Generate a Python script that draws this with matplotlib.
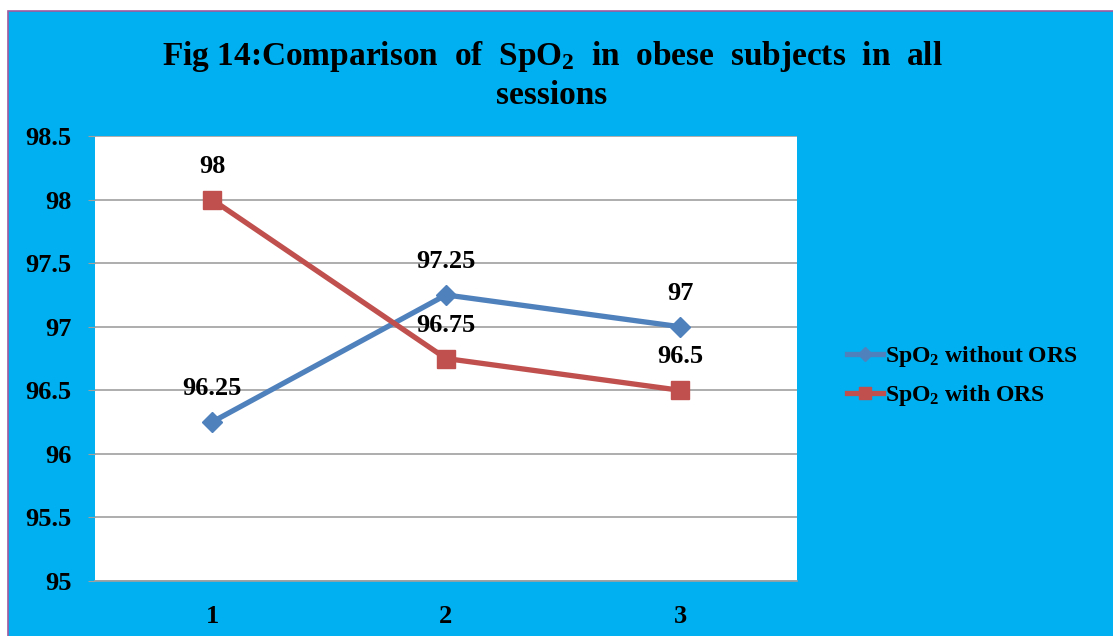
import matplotlib.pyplot as plt
import matplotlib.patches as mpatches

plt.rcParams['font.family'] = ['Liberation Serif', 'DejaVu Serif']
plt.rcParams['font.weight'] = 'bold'
plt.rcParams['mathtext.fontset'] = 'custom'
plt.rcParams['mathtext.rm'] = 'Liberation Serif:bold'
plt.rcParams['mathtext.bf'] = 'Liberation Serif:bold'
plt.rcParams['mathtext.it'] = 'Liberation Serif:bold:italic'

sessions = [1, 2, 3]
spo2_without = [96.25, 97.25, 97]
spo2_with = [98, 96.75, 96.5]
yticks = [95, 95.5, 96, 96.5, 97, 97.5, 98, 98.5]

bg = '#00B0F0'
blue = '#4F81BD'
red = '#C0504D'

fig = plt.figure(figsize=(11.13, 6.36), dpi=100)
fig.patch.set_facecolor('white')

# cyan panel with thin purple edge
panel = mpatches.Rectangle((8 / 1113, -0.01), 1.0, 1 - 11 / 636 + 0.01,
                           transform=fig.transFigure, facecolor=bg,
                           edgecolor='#9E5A9E', linewidth=1.2, zorder=-5)
fig.patches.append(panel)

ax = fig.add_axes([95 / 1113, 1 - 581 / 636, 702 / 1113, 445 / 636])
ax.set_facecolor('white')

ax.plot(sessions, spo2_without, color=blue, lw=3.8, marker='D', ms=10,
        label='SpO$_\\mathrm{2}$ without ORS', zorder=3)
ax.plot(sessions, spo2_with, color=red, lw=3.8, marker='s', ms=13,
        label='SpO$_\\mathrm{2}$ with ORS', zorder=3)

# value labels above each point
for series in (spo2_without, spo2_with):
    for x, y in zip(sessions, series):
        ax.annotate(f'{y:g}', (x, y), xytext=(0, 24), textcoords='offset points',
                    ha='center', va='center', fontsize=19, fontweight='bold')

ax.set_xlim(0.5, 3.5)
ax.set_ylim(95, 98.5)
ax.set_yticks(yticks)
ax.set_yticklabels([f'{v:g}' for v in yticks])
ax.set_xticks(sessions)
ax.tick_params(axis='y', labelsize=19, length=5, color='#A0A0A0', pad=12)
ax.tick_params(axis='x', labelsize=19, length=0, pad=17)
ax.grid(axis='y', color='#A0A0A0', lw=1.2)
ax.set_axisbelow(True)
for s in ['top', 'right', 'left']:
    ax.spines[s].set_visible(False)
ax.spines['bottom'].set_color('#A0A0A0')
ax.spines['bottom'].set_linewidth(1.2)

fig.text(0.496, 1 - 57 / 636, 'Fig 14:Comparison  of  SpO$_\\mathrm{2}$  in  obese  subjects  in  all',
         ha='center', va='center', fontsize=24, fontweight='bold')
fig.text(0.496, 1 - 96 / 636, 'sessions', ha='center', va='center',
         fontsize=24, fontweight='bold')

leg = fig.legend(loc='center left', bbox_to_anchor=(826 / 1113, 1 - 376 / 636),
                 frameon=False, fontsize=17, handlelength=1.5, handletextpad=0.1,
                 labelspacing=0.6, markerscale=0.7)

fig.savefig('out.png', dpi=100, facecolor=fig.get_facecolor())
